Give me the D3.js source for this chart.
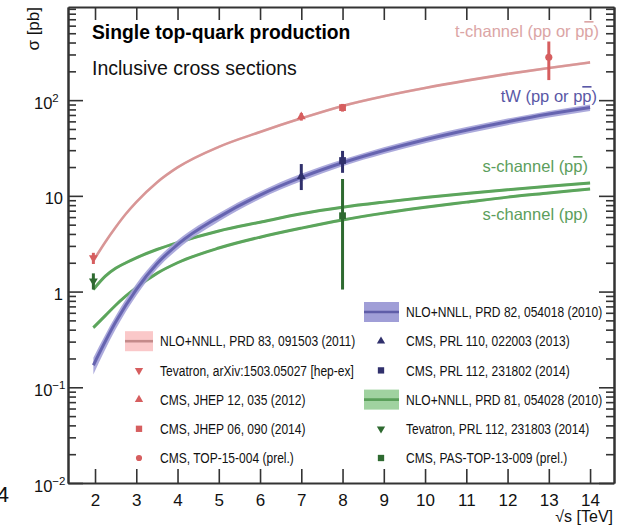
<!DOCTYPE html>
<html>
<head>
<meta charset="utf-8">
<script src="https://cdn.jsdelivr.net/npm/d3@7"></script>
<style>
  html, body { margin: 0; padding: 0; background: #fff; }
  svg { display: block; font-family: "Liberation Sans", Arial, Helvetica, sans-serif; }
</style>
</head>
<body>
<svg id="chart" width="633" height="529"></svg>
<script>
// ---- theory predictions: sqrt(s) in TeV, cross section in pb ----
const tchSqrtS = [1.96, 2.25, 2.5, 2.75, 3, 3.5, 4, 5, 6, 7, 8, 9, 10, 11, 12, 13, 14];
const tchXsec  = [2.1, 3.3, 4.7, 6.5, 8.6, 13.8, 19.8, 32.5, 46.5, 64.6, 87.1, 110, 134, 160, 188, 217, 248];

const twSqrtS  = [1.96, 2.5, 3, 3.5, 4, 5, 6, 7, 8, 9, 10, 11, 12, 13, 14];
const twXsec   = [0.17, 0.48, 1.05, 1.95, 3.1, 6.0, 10.2, 15.6, 22.2, 29.8, 38.6, 48.5, 59.5, 71.5, 83.6];
const twRelUnc = [0.2, 0.16, 0.14, 0.12, 0.11, 0.1, 0.09, 0.09, 0.08, 0.08, 0.08, 0.08, 0.08, 0.08, 0.08];

const schSqrtS     = [1.96, 2.25, 2.5, 2.75, 3, 3.5, 4, 5, 6, 7, 8, 9, 10, 11, 12, 13, 14];
const schPpbarXsec = [1.05, 1.45, 1.75, 2.0, 2.25, 2.75, 3.25, 4.3, 5.3, 6.5, 7.6, 8.6, 9.6, 10.6, 11.6, 12.6, 13.6];
const schPpXsec    = [0.42, 0.56, 0.72, 0.9, 1.1, 1.55, 2.0, 2.85, 3.7, 4.6, 5.6, 6.6, 7.6, 8.6, 9.7, 10.7, 11.8];

// ---- measurements ----
const tchMeasS   = [1.96, 7, 8, 13];
const tchMeasVal = [2.25, 67.2, 83.6, 280];
const tchMeasLo  = [1.94, 61.1, 75.9, 162];
const tchMeasHi  = [2.54, 73.3, 91.3, 410];
const tchMeasSym = ["down", "up", "square", "circle"];

const twMeasS   = [7, 8];
const twMeasVal = [16.0, 23.4];
const twMeasLo  = [11.5, 17.4];
const twMeasHi  = [21.5, 29.5];
const twMeasSym = ["up", "square"];

const schMeasS   = [1.96, 8];
const schMeasVal = [1.29, 6.2];
const schMeasLo  = [1.05, 1.05];
const schMeasHi  = [1.55, 15.0];
const schMeasSym = ["down", "square"];

// ---- axis ticks ----
const xTickValues = [2, 3, 4, 5, 6, 7, 8, 9, 10, 11, 12, 13, 14];
const yDecades    = [0.01, 0.1, 1, 10, 100];
const yDecadeBase = ["10", "10", "1", "10", "10"];
const yDecadeExp  = ["\u22122", "\u22121", "", "", "2"];

// ---- legend texts ----
const legendLeft  = ["NLO+NNLL, PRD 83, 091503 (2011)", "Tevatron, arXiv:1503.05027 [hep-ex]",
                     "CMS, JHEP 12, 035 (2012)", "CMS, JHEP 06, 090 (2014)", "CMS, TOP-15-004 (prel.)"];
const legendLeftSym = ["band", "down", "up", "square", "circle"];
const legendRight = ["NLO+NNLL, PRD 82, 054018 (2010)", "CMS, PRL 110, 022003 (2013)",
                     "CMS, PRL 112, 231802 (2014)", "NLO+NNLL, PRD 81, 054028 (2010)",
                     "Tevatron, PRL 112, 231803 (2014)", "CMS, PAS-TOP-13-009 (prel.)"];
const legendRightSym = ["band", "up", "square", "band", "down", "square"];
const legendRightCol = ["tw", "tw", "tw", "sch", "sch", "sch"];

// ---- styling ----
const col = {
  tch:  { line: "#d89696", band: "#f6d0d0", mark: "#d65e5f", legLine: "#c48a8a", legFill: "#fac8c9", text: "#dba5a5" },
  tw:   { line: "#6664b0", band: "#a3a1d8", mark: "#30306c", legLine: "#5f5da8", legFill: "#a09ed7", text: "#5a58a6" },
  sch:  { line: "#5ca55c", band: "#b0dcb0", mark: "#2e6a30", legLine: "#5a9f5a", legFill: "#a0d2a0", text: "#5c9e5c" }
};
const axisColor = "#333";

const svg = d3.select("#chart");
const L = 68, R = 614, T = 7, B = 483;

const x = d3.scaleLinear().domain([1.345, 14.58]).range([L, R]);
const y = d3.scaleLog().domain([0.01, 940]).range([B, T]);

// minor ticks 2..9 per decade
const yMinor = [];
yDecades.forEach(d => {
  for (let k = 2; k <= 9; k++) { const v = d * k; if (v < 940) yMinor.push(v); }
});

// ---- curves ----
svg.append("defs").append("clipPath").attr("id", "clip")
  .append("rect").attr("x", L).attr("y", T).attr("width", R - L).attr("height", B - T);
const plot = svg.append("g").attr("clip-path", "url(#clip)");

function series(sv, xs, unc) {
  return sv.map((s, i) => ({ s, v: xs[i], u: unc ? unc[i] : 0.03 }));
}
const line = d3.line().x(d => x(d.s)).y(d => y(d.v)).curve(d3.curveMonotoneX);
const band = d3.area().x(d => x(d.s))
  .y0(d => y(d.v * (1 - d.u))).y1(d => y(d.v * (1 + d.u))).curve(d3.curveMonotoneX);

function drawCurve(data, c, lineW, bandOpacity) {
  plot.append("path").attr("d", band(data)).attr("fill", c.band).attr("opacity", bandOpacity);
  plot.append("path").attr("d", line(data)).attr("fill", "none")
    .attr("stroke", c.line).attr("stroke-width", lineW).attr("stroke-linecap", "butt");
}
drawCurve(series(schSqrtS, schPpXsec), col.sch, 3, 0.8);
drawCurve(series(schSqrtS, schPpbarXsec), col.sch, 3, 0.8);
drawCurve(series(twSqrtS, twXsec, twRelUnc), col.tw, 3, 0.9);
drawCurve(series(tchSqrtS, tchXsec), col.tch, 2.6, 0.8);

// ---- markers ----
function symPath(kind, size) {
  const t = kind === "square" ? d3.symbolSquare : kind === "circle" ? d3.symbolCircle : d3.symbolTriangle;
  return d3.symbol().type(t).size(size)();
}
function drawMarker(g, kind, cx, cy, color, size) {
  g.append("path").attr("d", symPath(kind, size))
    .attr("transform", `translate(${cx},${cy})` + (kind === "down" ? " rotate(180)" : ""))
    .attr("fill", color);
}
function drawMeas(sv, val, lo, hi, sym, color) {
  sv.forEach((s, i) => {
    plot.append("line").attr("x1", x(s)).attr("x2", x(s))
      .attr("y1", y(hi[i])).attr("y2", y(lo[i]))
      .attr("stroke", color).attr("stroke-width", 3);
    drawMarker(plot, sym[i], x(s), y(val[i]), color, sym[i] === "square" ? 46 : sym[i] === "circle" ? 40 : 34);
  });
}
drawMeas(schMeasS, schMeasVal, schMeasLo, schMeasHi, schMeasSym, col.sch.mark);
drawMeas(twMeasS, twMeasVal, twMeasLo, twMeasHi, twMeasSym, col.tw.mark);
drawMeas(tchMeasS, tchMeasVal, tchMeasLo, tchMeasHi, tchMeasSym, col.tch.mark);

// ---- axes ----
function styleAxis(g) {
  g.select(".domain").attr("stroke", axisColor).attr("stroke-width", 2);
  g.selectAll(".tick line").attr("stroke", axisColor).attr("stroke-width", 1.6);
}
const gx = svg.append("g").attr("transform", `translate(0,${B})`)
  .call(d3.axisBottom(x).tickValues(xTickValues).tickSize(-14).tickSizeOuter(0).tickPadding(11));
styleAxis(gx);
gx.selectAll(".tick text").attr("font-size", 17).attr("fill", "#111")
  .attr("font-family", "Liberation Sans, Arial, sans-serif");

const gxTop = svg.append("g").attr("transform", `translate(0,${T})`)
  .call(d3.axisTop(x).tickValues(xTickValues).tickSize(-13).tickSizeOuter(0).tickFormat(""));
styleAxis(gxTop);

const gyL = svg.append("g").attr("transform", `translate(${L},0)`)
  .call(d3.axisLeft(y).tickValues(yDecades).tickSize(-15).tickSizeOuter(0).tickFormat(""));
styleAxis(gyL);
const gyLm = svg.append("g").attr("transform", `translate(${L},0)`)
  .call(d3.axisLeft(y).tickValues(yMinor).tickSize(-8).tickSizeOuter(0).tickFormat(""));
styleAxis(gyLm);

const gyR = svg.append("g").attr("transform", `translate(${R},0)`)
  .call(d3.axisRight(y).tickValues(yDecades).tickSize(-15).tickSizeOuter(0).tickFormat(""));
styleAxis(gyR);
const gyRm = svg.append("g").attr("transform", `translate(${R},0)`)
  .call(d3.axisRight(y).tickValues(yMinor).tickSize(-8).tickSizeOuter(0).tickFormat(""));
styleAxis(gyRm);

// y labels with exponents
yDecades.forEach((v, i) => {
  const t = svg.append("text").attr("y", y(v) + 8.5).attr("font-size", 16.5).attr("fill", "#111");
  if (yDecadeExp[i]) {
    t.attr("x", 34).attr("text-anchor", "start");
    t.append("tspan").text(yDecadeBase[i]);
    t.append("tspan").attr("dy", -7).attr("font-size", 11.5).text(yDecadeExp[i]);
  } else {
    t.attr("x", 63).attr("text-anchor", "end").text(yDecadeBase[i]);
  }
});

// axis titles
svg.append("text").attr("transform", `translate(39,${T}) rotate(-90)`)
  .attr("text-anchor", "end").attr("font-size", 17).attr("fill", "#111").text("\u03c3 [pb]");
svg.append("text").attr("x", 613).attr("y", 522).attr("text-anchor", "end")
  .attr("font-size", 16).attr("fill", "#111").text("\u221as [TeV]");
svg.append("text").attr("x", 9).attr("y", 502).attr("text-anchor", "end")
  .attr("font-size", 22).attr("fill", "#111").text("4");

// ---- title ----
svg.append("text").attr("transform", "translate(92,39) scale(0.92,1)")
  .attr("font-size", 21).attr("font-weight", "bold").attr("fill", "#000")
  .text("Single top-quark production");
svg.append("text").attr("x", 92).attr("y", 75)
  .attr("font-size", 19.5).attr("fill", "#111").text("Inclusive cross sections");

// ---- curve labels (overlined p marks the antiproton) ----
function procLabel(xEnd, yBase, parts, color) {
  const t = svg.append("text").attr("x", xEnd).attr("y", yBase).attr("text-anchor", "end")
    .attr("font-size", 16.5).attr("fill", color);
  parts.forEach(p => {
    const s = t.append("tspan").text(p.t);
    if (p.bar) s.style("text-decoration", "overline");
  });
}
procLabel(599, 37, [{ t: "t-channel (pp or p" }, { t: "p", bar: true }, { t: ")" }], col.tch.text);
procLabel(597, 102, [{ t: "tW (pp or p" }, { t: "p", bar: true }, { t: ")" }], col.tw.text);
procLabel(588, 172, [{ t: "s-channel (p" }, { t: "p", bar: true }, { t: ")" }], col.sch.text);
procLabel(588, 220, [{ t: "s-channel (pp)" }], col.sch.text);

// ---- legend ----
const rowH = 29.2;
function legendBox(x0, x1, yc, c) {
  svg.append("rect").attr("x", x0).attr("y", yc - 10).attr("width", x1 - x0).attr("height", 20)
    .attr("fill", c.legFill);
  svg.append("line").attr("x1", x0).attr("x2", x1).attr("y1", yc).attr("y2", yc)
    .attr("stroke", c.legLine).attr("stroke-width", 2.6);
}
function legendText(x0, yc, str) {
  svg.append("text").attr("transform", `translate(${x0},${yc + 5.2}) scale(0.83,1)`)
    .attr("font-size", 14.5).attr("fill", "#111").text(str);
}
legendLeft.forEach((str, i) => {
  const yc = 341.2 + i * rowH;
  if (legendLeftSym[i] === "band") legendBox(125, 153, yc, col.tch);
  else drawMarker(svg, legendLeftSym[i], 139, yc, col.tch.mark, legendLeftSym[i] === "square" ? 40 : 30);
  legendText(160, yc, str);
});
legendRight.forEach((str, i) => {
  const yc = 312 + i * rowH;
  const c = col[legendRightCol[i]];
  if (legendRightSym[i] === "band") legendBox(364, 399, yc, c);
  else drawMarker(svg, legendRightSym[i], 381, yc, c.mark, legendRightSym[i] === "square" ? 40 : 30);
  legendText(406, yc, str);
});
</script>
</body>
</html>
